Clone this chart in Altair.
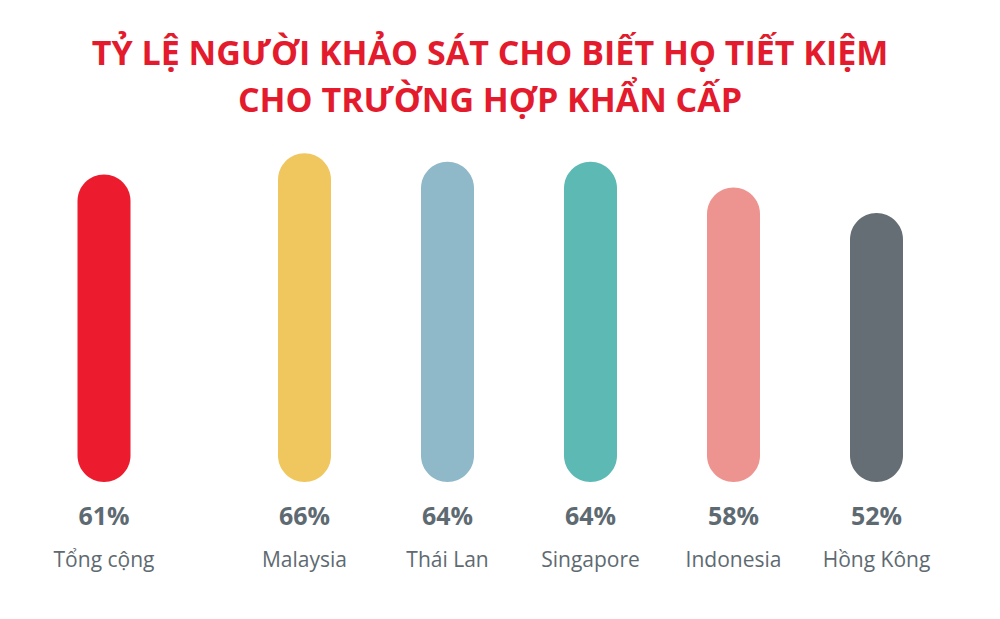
import altair as alt
import pandas as pd

# Survey share of respondents saving for emergencies, by market
categories = ["Tổng cộng", "Malaysia", "Thái Lan", "Singapore", "Indonesia", "Hồng Kông"]
values = [61, 66, 64, 64, 58, 52]
bar_colors = ["#EC1B2E", "#F0C75E", "#8FB8C8", "#5CB9B4", "#EE9490", "#646E74"]

title_lines = ["TỶ LỆ NGƯỜI KHẢO SÁT CHO BIẾT HỌ TIẾT KIỆM", "CHO TRƯỜNG HỢP KHẨN CẤP"]

df = pd.DataFrame({"cat": categories, "val": values})
df["label"] = df["val"].astype(str) + "%"

BAR_AREA = 346      # pixel height used by the bars
PANEL_H = 450       # bars plus the two label rows underneath
BAR_W = 53
TEXT_COLOR = "#5E6A71"
Y_MIN, Y_MAX = -10.8, 70

y_scale = alt.Scale(domain=[Y_MIN, Y_MAX], nice=False, range=[BAR_AREA, 0])
color_scale = alt.Scale(domain=categories, range=bar_colors)


def panel(data, order, width):
    x = alt.X("cat:N", sort=order, axis=None,
              scale=alt.Scale(paddingInner=0, paddingOuter=0))
    base = alt.Chart(data).encode(x=x)
    bars = base.mark_bar(size=BAR_W, cornerRadius=BAR_W / 2).encode(
        y=alt.Y("val:Q", scale=y_scale, axis=None, stack=None),
        y2=alt.datum(Y_MIN),
        color=alt.Color("cat:N", scale=color_scale, legend=None),
    )
    pct = base.mark_text(font="Open Sans", fontWeight="bold", fontSize=25,
                         color=TEXT_COLOR, baseline="alphabetic").encode(
        text="label:N", y=alt.value(BAR_AREA + 43))
    name = base.mark_text(font="Open Sans", fontSize=21,
                          color=TEXT_COLOR, baseline="alphabetic").encode(
        text="cat:N", y=alt.value(BAR_AREA + 85))
    return alt.layer(bars, pct, name).properties(width=width, height=PANEL_H)


left = panel(df.iloc[:1], categories[:1], 208)
right = panel(df.iloc[1:], categories[1:], 715)

chart = alt.hconcat(left, right, spacing=25).properties(
    title=alt.TitleParams(
        text=title_lines,
        font="Open Sans",
        fontWeight="bold",
        fontSize=34,
        lineHeight=47,
        color="#E31B2D",
        anchor="middle",
        dx=16,
        offset=17,
    ),
    padding={"left": 0, "top": 38, "right": 0, "bottom": 0},
    background="white",
).configure_view(stroke=None)

chart.save("out.html", embed_options={"renderer": "svg", "actions": False})
